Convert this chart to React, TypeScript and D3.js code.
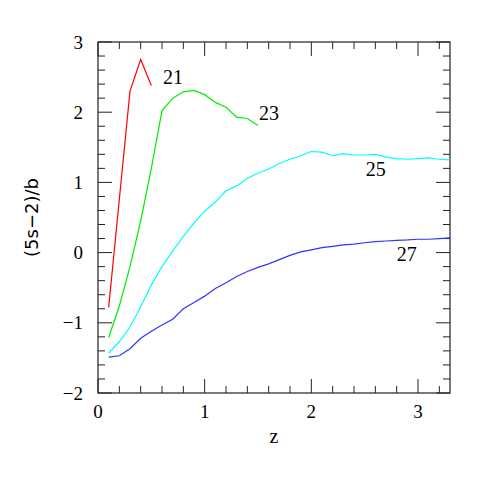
import React, { useEffect, useRef } from "react";
import * as d3 from "d3";

// redshift grid for each curve
const zRed = [0.1, 0.3, 0.4, 0.5];
const red21 = [-0.78, 2.3, 2.75, 2.38];

const zGreen = [0.1, 0.2, 0.3, 0.4, 0.5, 0.6, 0.7, 0.8, 0.9, 1.0, 1.1, 1.2, 1.3, 1.4, 1.5];
const green23 = [-1.21, -0.76, -0.2, 0.45, 1.2, 2.02, 2.2, 2.29, 2.31, 2.25, 2.14, 2.07, 1.93, 1.91, 1.81];

const zLong = [
  0.1, 0.2, 0.3, 0.4, 0.5, 0.6, 0.7, 0.8, 0.9, 1.0, 1.1, 1.2, 1.3, 1.4, 1.5, 1.6, 1.7,
  1.8, 1.9, 2.0, 2.1, 2.2, 2.3, 2.4, 2.5, 2.6, 2.7, 2.8, 2.9, 3.0, 3.1, 3.2, 3.3,
];
const cyan25 = [
  -1.43, -1.27, -1.06, -0.77, -0.46, -0.2, 0.02, 0.23, 0.42, 0.59, 0.72, 0.88, 0.95, 1.06,
  1.13, 1.19, 1.27, 1.33, 1.38, 1.44, 1.43, 1.38, 1.41, 1.39, 1.39, 1.4, 1.36, 1.34, 1.33,
  1.34, 1.35, 1.33, 1.32,
];
const blue27 = [
  -1.49, -1.47, -1.37, -1.22, -1.12, -1.03, -0.95, -0.8, -0.71, -0.62, -0.51, -0.43, -0.34,
  -0.27, -0.21, -0.16, -0.1, -0.04, 0.01, 0.04, 0.07, 0.09, 0.11, 0.12, 0.14, 0.155, 0.165,
  0.175, 0.18, 0.19, 0.19, 0.2, 0.21,
];

const series = [
  { name: "21", z: zRed, v: red21, color: "#ff0000", lx: 0.61, ly: 2.4 },
  { name: "23", z: zGreen, v: green23, color: "#00ee00", lx: 1.51, ly: 1.89 },
  { name: "25", z: zLong, v: cyan25, color: "#00ffff", lx: 2.51, ly: 1.09 },
  { name: "27", z: zLong, v: blue27, color: "#3333ff", lx: 2.8, ly: -0.12 },
];

const xTicks = [0, 1, 2, 3];
const yTicks = [-2, -1, 0, 1, 2, 3];

const App = () => {
  const ref = useRef<SVGSVGElement>(null);
  const margin = { top: 42, right: 41, bottom: 98, left: 98 };
  const W = 491;
  const H = 491;
  const width = W - margin.left - margin.right;
  const height = H - margin.top - margin.bottom;

  useEffect(() => {
    const svg = d3.select(ref.current);
    svg.selectAll("*").remove();
    const g = svg
      .append("g")
      .attr("transform", "translate(" + margin.left + "," + margin.top + ")");

    const x = d3.scaleLinear().domain([0, 3.3]).range([0, width]);
    const y = d3.scaleLinear().domain([-2, 3]).range([height, 0]);
    const font = "'Liberation Serif', serif";

    const xMinor = d3.range(0, 3.3001, 0.2);
    const yMinor = d3.range(-2, 3.0001, 0.2);
    const isMajor = (t: number) => Math.abs(t - Math.round(t)) < 1e-6;

    const ticks = g.append("g").attr("stroke", "#222").attr("stroke-width", 1);
    xMinor.forEach((t) => {
      const len = isMajor(t) ? 14 : 7;
      ticks.append("line").attr("x1", x(t)).attr("x2", x(t)).attr("y1", height).attr("y2", height - len);
      ticks.append("line").attr("x1", x(t)).attr("x2", x(t)).attr("y1", 0).attr("y2", len);
    });
    yMinor.forEach((t) => {
      const len = isMajor(t) ? 14 : 7;
      ticks.append("line").attr("y1", y(t)).attr("y2", y(t)).attr("x1", 0).attr("x2", len);
      ticks.append("line").attr("y1", y(t)).attr("y2", y(t)).attr("x1", width).attr("x2", width - len);
    });

    g.append("rect")
      .attr("width", width)
      .attr("height", height)
      .attr("fill", "none")
      .attr("stroke", "#222")
      .attr("stroke-width", 1.2);

    g.selectAll(".xl")
      .data(xTicks)
      .enter()
      .append("text")
      .attr("x", (d) => x(d))
      .attr("y", height + 25)
      .attr("text-anchor", "middle")
      .style("font-family", font)
      .style("font-size", "19px")
      .text((d) => String(d));

    g.selectAll(".yl")
      .data(yTicks)
      .enter()
      .append("text")
      .attr("x", -15)
      .attr("y", (d) => y(d))
      .attr("dy", "0.35em")
      .attr("text-anchor", "end")
      .style("font-family", font)
      .style("font-size", "19px")
      .text((d) => (d < 0 ? "\u2212" + Math.abs(d) : String(d)));

    series.forEach((s) => {
      const pts = s.z.map((z, i) => [z, s.v[i]] as [number, number]);
      g.append("path")
        .datum(pts)
        .attr("fill", "none")
        .attr("stroke", s.color)
        .attr("stroke-width", 1.2)
        .attr(
          "d",
          d3
            .line<[number, number]>()
            .x((d) => x(d[0]))
            .y((d) => y(d[1]))
        );
      g.append("text")
        .attr("x", x(s.lx))
        .attr("y", y(s.ly))
        .style("font-family", font)
        .style("font-size", "20px")
        .text(s.name);
    });

    g.append("text")
      .attr("x", width / 2)
      .attr("y", height + 50)
      .attr("text-anchor", "middle")
      .style("font-family", font)
      .style("font-size", "20px")
      .text("z");

    g.append("text")
      .attr("transform", "rotate(-90)")
      .attr("x", -height / 2)
      .attr("y", -60)
      .attr("text-anchor", "middle")
      .style("font-family", "'DejaVu Sans', sans-serif")
      .style("font-size", "18px")
      .text("(5s\u22122)/b");
  }, []);

  return (
    <svg
      ref={ref}
      width={W}
      height={H}
      style={{ position: "absolute", left: 0, top: 0, background: "white" }}
    />
  );
};

export default App;
